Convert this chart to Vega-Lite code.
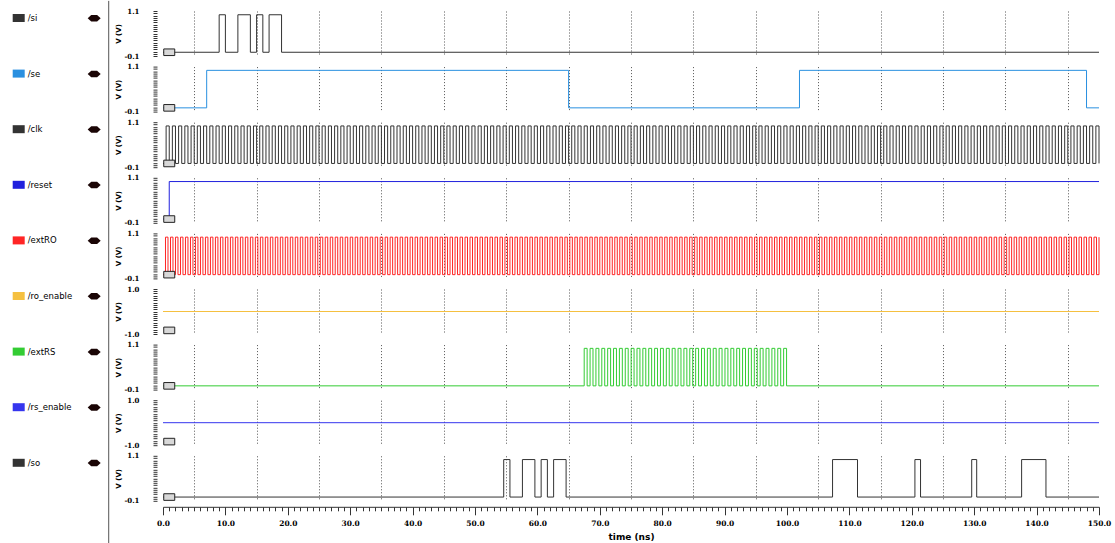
{
"$schema":"https://vega.github.io/schema/vega-lite/v6.json",
"background":"white",
"padding":{"left":8,"top":0,"right":10,"bottom":0},
"spacing":10.6,
"bounds":"flush",
"resolve":{"scale":{"color":"independent"},"legend":{"color":"independent"}},
"config":{
 "view":{"stroke":null},
 "axis":{"labelFont":"DejaVu Serif","labelFontWeight":"bold","labelFontSize":7,"labelColor":"#000","titleFont":"DejaVu Sans","titleFontWeight":"bold","titleFontSize":7,"titleColor":"#000","labelOverlap":false,"labelFlush":false,"labelBound":false,"domain":false,"grid":false,"ticks":true,"tickColor":"#333","tickWidth":1},
 "legend":{"labelFont":"DejaVu Sans","labelFontSize":8.5,"labelColor":"#000","labelOffset":-1,"padding":0}
},
"datasets":{
"si":[{"t":0,"v":0},{"t":9,"v":1},{"t":10,"v":0},{"t":12,"v":1},{"t":14,"v":0},{"t":15,"v":1},{"t":16,"v":0},{"t":17,"v":1},{"t":19,"v":0},{"t":150,"v":0}],
"se":[{"t":0,"v":0},{"t":7,"v":1},{"t":65,"v":0},{"t":102,"v":1},{"t":148,"v":0},{"t":150,"v":0}],
"clk":[{"t":0,"v":0},{"t":0.5,"v":1},{"t":1,"v":0},{"t":1.5,"v":1},{"t":2,"v":0},{"t":2.5,"v":1},{"t":3,"v":0},{"t":3.5,"v":1},{"t":4,"v":0},{"t":4.5,"v":1},{"t":5,"v":0},{"t":5.5,"v":1},{"t":6,"v":0},{"t":6.5,"v":1},{"t":7,"v":0},{"t":7.5,"v":1},{"t":8,"v":0},{"t":8.5,"v":1},{"t":9,"v":0},{"t":9.5,"v":1},
{"t":10,"v":0},{"t":10.5,"v":1},{"t":11,"v":0},{"t":11.5,"v":1},{"t":12,"v":0},{"t":12.5,"v":1},{"t":13,"v":0},{"t":13.5,"v":1},{"t":14,"v":0},{"t":14.5,"v":1},{"t":15,"v":0},{"t":15.5,"v":1},{"t":16,"v":0},{"t":16.5,"v":1},{"t":17,"v":0},{"t":17.5,"v":1},{"t":18,"v":0},{"t":18.5,"v":1},{"t":19,"v":0},{"t":19.5,"v":1},
{"t":20,"v":0},{"t":20.5,"v":1},{"t":21,"v":0},{"t":21.5,"v":1},{"t":22,"v":0},{"t":22.5,"v":1},{"t":23,"v":0},{"t":23.5,"v":1},{"t":24,"v":0},{"t":24.5,"v":1},{"t":25,"v":0},{"t":25.5,"v":1},{"t":26,"v":0},{"t":26.5,"v":1},{"t":27,"v":0},{"t":27.5,"v":1},{"t":28,"v":0},{"t":28.5,"v":1},{"t":29,"v":0},{"t":29.5,"v":1},
{"t":30,"v":0},{"t":30.5,"v":1},{"t":31,"v":0},{"t":31.5,"v":1},{"t":32,"v":0},{"t":32.5,"v":1},{"t":33,"v":0},{"t":33.5,"v":1},{"t":34,"v":0},{"t":34.5,"v":1},{"t":35,"v":0},{"t":35.5,"v":1},{"t":36,"v":0},{"t":36.5,"v":1},{"t":37,"v":0},{"t":37.5,"v":1},{"t":38,"v":0},{"t":38.5,"v":1},{"t":39,"v":0},{"t":39.5,"v":1},
{"t":40,"v":0},{"t":40.5,"v":1},{"t":41,"v":0},{"t":41.5,"v":1},{"t":42,"v":0},{"t":42.5,"v":1},{"t":43,"v":0},{"t":43.5,"v":1},{"t":44,"v":0},{"t":44.5,"v":1},{"t":45,"v":0},{"t":45.5,"v":1},{"t":46,"v":0},{"t":46.5,"v":1},{"t":47,"v":0},{"t":47.5,"v":1},{"t":48,"v":0},{"t":48.5,"v":1},{"t":49,"v":0},{"t":49.5,"v":1},
{"t":50,"v":0},{"t":50.5,"v":1},{"t":51,"v":0},{"t":51.5,"v":1},{"t":52,"v":0},{"t":52.5,"v":1},{"t":53,"v":0},{"t":53.5,"v":1},{"t":54,"v":0},{"t":54.5,"v":1},{"t":55,"v":0},{"t":55.5,"v":1},{"t":56,"v":0},{"t":56.5,"v":1},{"t":57,"v":0},{"t":57.5,"v":1},{"t":58,"v":0},{"t":58.5,"v":1},{"t":59,"v":0},{"t":59.5,"v":1},
{"t":60,"v":0},{"t":60.5,"v":1},{"t":61,"v":0},{"t":61.5,"v":1},{"t":62,"v":0},{"t":62.5,"v":1},{"t":63,"v":0},{"t":63.5,"v":1},{"t":64,"v":0},{"t":64.5,"v":1},{"t":65,"v":0},{"t":65.5,"v":1},{"t":66,"v":0},{"t":66.5,"v":1},{"t":67,"v":0},{"t":67.5,"v":1},{"t":68,"v":0},{"t":68.5,"v":1},{"t":69,"v":0},{"t":69.5,"v":1},
{"t":70,"v":0},{"t":70.5,"v":1},{"t":71,"v":0},{"t":71.5,"v":1},{"t":72,"v":0},{"t":72.5,"v":1},{"t":73,"v":0},{"t":73.5,"v":1},{"t":74,"v":0},{"t":74.5,"v":1},{"t":75,"v":0},{"t":75.5,"v":1},{"t":76,"v":0},{"t":76.5,"v":1},{"t":77,"v":0},{"t":77.5,"v":1},{"t":78,"v":0},{"t":78.5,"v":1},{"t":79,"v":0},{"t":79.5,"v":1},
{"t":80,"v":0},{"t":80.5,"v":1},{"t":81,"v":0},{"t":81.5,"v":1},{"t":82,"v":0},{"t":82.5,"v":1},{"t":83,"v":0},{"t":83.5,"v":1},{"t":84,"v":0},{"t":84.5,"v":1},{"t":85,"v":0},{"t":85.5,"v":1},{"t":86,"v":0},{"t":86.5,"v":1},{"t":87,"v":0},{"t":87.5,"v":1},{"t":88,"v":0},{"t":88.5,"v":1},{"t":89,"v":0},{"t":89.5,"v":1},
{"t":90,"v":0},{"t":90.5,"v":1},{"t":91,"v":0},{"t":91.5,"v":1},{"t":92,"v":0},{"t":92.5,"v":1},{"t":93,"v":0},{"t":93.5,"v":1},{"t":94,"v":0},{"t":94.5,"v":1},{"t":95,"v":0},{"t":95.5,"v":1},{"t":96,"v":0},{"t":96.5,"v":1},{"t":97,"v":0},{"t":97.5,"v":1},{"t":98,"v":0},{"t":98.5,"v":1},{"t":99,"v":0},{"t":99.5,"v":1},
{"t":100,"v":0},{"t":100.5,"v":1},{"t":101,"v":0},{"t":101.5,"v":1},{"t":102,"v":0},{"t":102.5,"v":1},{"t":103,"v":0},{"t":103.5,"v":1},{"t":104,"v":0},{"t":104.5,"v":1},{"t":105,"v":0},{"t":105.5,"v":1},{"t":106,"v":0},{"t":106.5,"v":1},{"t":107,"v":0},{"t":107.5,"v":1},{"t":108,"v":0},{"t":108.5,"v":1},{"t":109,"v":0},{"t":109.5,"v":1},
{"t":110,"v":0},{"t":110.5,"v":1},{"t":111,"v":0},{"t":111.5,"v":1},{"t":112,"v":0},{"t":112.5,"v":1},{"t":113,"v":0},{"t":113.5,"v":1},{"t":114,"v":0},{"t":114.5,"v":1},{"t":115,"v":0},{"t":115.5,"v":1},{"t":116,"v":0},{"t":116.5,"v":1},{"t":117,"v":0},{"t":117.5,"v":1},{"t":118,"v":0},{"t":118.5,"v":1},{"t":119,"v":0},{"t":119.5,"v":1},
{"t":120,"v":0},{"t":120.5,"v":1},{"t":121,"v":0},{"t":121.5,"v":1},{"t":122,"v":0},{"t":122.5,"v":1},{"t":123,"v":0},{"t":123.5,"v":1},{"t":124,"v":0},{"t":124.5,"v":1},{"t":125,"v":0},{"t":125.5,"v":1},{"t":126,"v":0},{"t":126.5,"v":1},{"t":127,"v":0},{"t":127.5,"v":1},{"t":128,"v":0},{"t":128.5,"v":1},{"t":129,"v":0},{"t":129.5,"v":1},
{"t":130,"v":0},{"t":130.5,"v":1},{"t":131,"v":0},{"t":131.5,"v":1},{"t":132,"v":0},{"t":132.5,"v":1},{"t":133,"v":0},{"t":133.5,"v":1},{"t":134,"v":0},{"t":134.5,"v":1},{"t":135,"v":0},{"t":135.5,"v":1},{"t":136,"v":0},{"t":136.5,"v":1},{"t":137,"v":0},{"t":137.5,"v":1},{"t":138,"v":0},{"t":138.5,"v":1},{"t":139,"v":0},{"t":139.5,"v":1},
{"t":140,"v":0},{"t":140.5,"v":1},{"t":141,"v":0},{"t":141.5,"v":1},{"t":142,"v":0},{"t":142.5,"v":1},{"t":143,"v":0},{"t":143.5,"v":1},{"t":144,"v":0},{"t":144.5,"v":1},{"t":145,"v":0},{"t":145.5,"v":1},{"t":146,"v":0},{"t":146.5,"v":1},{"t":147,"v":0},{"t":147.5,"v":1},{"t":148,"v":0},{"t":148.5,"v":1},{"t":149,"v":0},{"t":149.5,"v":1},{"t":150,"v":0}],
"reset":[{"t":0,"v":0},{"t":1,"v":1},{"t":150,"v":1}],
"extRO":[{"t":0,"v":0},{"t":0.4,"v":1},{"t":0.8,"v":0},{"t":1.2,"v":1},{"t":1.6,"v":0},{"t":2,"v":1},{"t":2.4,"v":0},{"t":2.8,"v":1},{"t":3.2,"v":0},{"t":3.6,"v":1},
{"t":4,"v":0},{"t":4.4,"v":1},{"t":4.8,"v":0},{"t":5.2,"v":1},{"t":5.6,"v":0},{"t":6,"v":1},{"t":6.4,"v":0},{"t":6.8,"v":1},{"t":7.2,"v":0},{"t":7.6,"v":1},
{"t":8,"v":0},{"t":8.4,"v":1},{"t":8.8,"v":0},{"t":9.2,"v":1},{"t":9.6,"v":0},{"t":10,"v":1},{"t":10.4,"v":0},{"t":10.8,"v":1},{"t":11.2,"v":0},{"t":11.6,"v":1},
{"t":12,"v":0},{"t":12.4,"v":1},{"t":12.8,"v":0},{"t":13.2,"v":1},{"t":13.6,"v":0},{"t":14,"v":1},{"t":14.4,"v":0},{"t":14.8,"v":1},{"t":15.2,"v":0},{"t":15.6,"v":1},
{"t":16,"v":0},{"t":16.4,"v":1},{"t":16.8,"v":0},{"t":17.2,"v":1},{"t":17.6,"v":0},{"t":18,"v":1},{"t":18.4,"v":0},{"t":18.8,"v":1},{"t":19.2,"v":0},{"t":19.6,"v":1},
{"t":20,"v":0},{"t":20.4,"v":1},{"t":20.8,"v":0},{"t":21.2,"v":1},{"t":21.6,"v":0},{"t":22,"v":1},{"t":22.4,"v":0},{"t":22.8,"v":1},{"t":23.2,"v":0},{"t":23.6,"v":1},
{"t":24,"v":0},{"t":24.4,"v":1},{"t":24.8,"v":0},{"t":25.2,"v":1},{"t":25.6,"v":0},{"t":26,"v":1},{"t":26.4,"v":0},{"t":26.8,"v":1},{"t":27.2,"v":0},{"t":27.6,"v":1},
{"t":28,"v":0},{"t":28.4,"v":1},{"t":28.8,"v":0},{"t":29.2,"v":1},{"t":29.6,"v":0},{"t":30,"v":1},{"t":30.4,"v":0},{"t":30.8,"v":1},{"t":31.2,"v":0},{"t":31.6,"v":1},
{"t":32,"v":0},{"t":32.4,"v":1},{"t":32.8,"v":0},{"t":33.2,"v":1},{"t":33.6,"v":0},{"t":34,"v":1},{"t":34.4,"v":0},{"t":34.8,"v":1},{"t":35.2,"v":0},{"t":35.6,"v":1},
{"t":36,"v":0},{"t":36.4,"v":1},{"t":36.8,"v":0},{"t":37.2,"v":1},{"t":37.6,"v":0},{"t":38,"v":1},{"t":38.4,"v":0},{"t":38.8,"v":1},{"t":39.2,"v":0},{"t":39.6,"v":1},
{"t":40,"v":0},{"t":40.4,"v":1},{"t":40.8,"v":0},{"t":41.2,"v":1},{"t":41.6,"v":0},{"t":42,"v":1},{"t":42.4,"v":0},{"t":42.8,"v":1},{"t":43.2,"v":0},{"t":43.6,"v":1},
{"t":44,"v":0},{"t":44.4,"v":1},{"t":44.8,"v":0},{"t":45.2,"v":1},{"t":45.6,"v":0},{"t":46,"v":1},{"t":46.4,"v":0},{"t":46.8,"v":1},{"t":47.2,"v":0},{"t":47.6,"v":1},
{"t":48,"v":0},{"t":48.4,"v":1},{"t":48.8,"v":0},{"t":49.2,"v":1},{"t":49.6,"v":0},{"t":50,"v":1},{"t":50.4,"v":0},{"t":50.8,"v":1},{"t":51.2,"v":0},{"t":51.6,"v":1},
{"t":52,"v":0},{"t":52.4,"v":1},{"t":52.8,"v":0},{"t":53.2,"v":1},{"t":53.6,"v":0},{"t":54,"v":1},{"t":54.4,"v":0},{"t":54.8,"v":1},{"t":55.2,"v":0},{"t":55.6,"v":1},
{"t":56,"v":0},{"t":56.4,"v":1},{"t":56.8,"v":0},{"t":57.2,"v":1},{"t":57.6,"v":0},{"t":58,"v":1},{"t":58.4,"v":0},{"t":58.8,"v":1},{"t":59.2,"v":0},{"t":59.6,"v":1},
{"t":60,"v":0},{"t":60.4,"v":1},{"t":60.8,"v":0},{"t":61.2,"v":1},{"t":61.6,"v":0},{"t":62,"v":1},{"t":62.4,"v":0},{"t":62.8,"v":1},{"t":63.2,"v":0},{"t":63.6,"v":1},
{"t":64,"v":0},{"t":64.4,"v":1},{"t":64.8,"v":0},{"t":65.2,"v":1},{"t":65.6,"v":0},{"t":66,"v":1},{"t":66.4,"v":0},{"t":66.8,"v":1},{"t":67.2,"v":0},{"t":67.6,"v":1},
{"t":68,"v":0},{"t":68.4,"v":1},{"t":68.8,"v":0},{"t":69.2,"v":1},{"t":69.6,"v":0},{"t":70,"v":1},{"t":70.4,"v":0},{"t":70.8,"v":1},{"t":71.2,"v":0},{"t":71.6,"v":1},
{"t":72,"v":0},{"t":72.4,"v":1},{"t":72.8,"v":0},{"t":73.2,"v":1},{"t":73.6,"v":0},{"t":74,"v":1},{"t":74.4,"v":0},{"t":74.8,"v":1},{"t":75.2,"v":0},{"t":75.6,"v":1},
{"t":76,"v":0},{"t":76.4,"v":1},{"t":76.8,"v":0},{"t":77.2,"v":1},{"t":77.6,"v":0},{"t":78,"v":1},{"t":78.4,"v":0},{"t":78.8,"v":1},{"t":79.2,"v":0},{"t":79.6,"v":1},
{"t":80,"v":0},{"t":80.4,"v":1},{"t":80.8,"v":0},{"t":81.2,"v":1},{"t":81.6,"v":0},{"t":82,"v":1},{"t":82.4,"v":0},{"t":82.8,"v":1},{"t":83.2,"v":0},{"t":83.6,"v":1},
{"t":84,"v":0},{"t":84.4,"v":1},{"t":84.8,"v":0},{"t":85.2,"v":1},{"t":85.6,"v":0},{"t":86,"v":1},{"t":86.4,"v":0},{"t":86.8,"v":1},{"t":87.2,"v":0},{"t":87.6,"v":1},
{"t":88,"v":0},{"t":88.4,"v":1},{"t":88.8,"v":0},{"t":89.2,"v":1},{"t":89.6,"v":0},{"t":90,"v":1},{"t":90.4,"v":0},{"t":90.8,"v":1},{"t":91.2,"v":0},{"t":91.6,"v":1},
{"t":92,"v":0},{"t":92.4,"v":1},{"t":92.8,"v":0},{"t":93.2,"v":1},{"t":93.6,"v":0},{"t":94,"v":1},{"t":94.4,"v":0},{"t":94.8,"v":1},{"t":95.2,"v":0},{"t":95.6,"v":1},
{"t":96,"v":0},{"t":96.4,"v":1},{"t":96.8,"v":0},{"t":97.2,"v":1},{"t":97.6,"v":0},{"t":98,"v":1},{"t":98.4,"v":0},{"t":98.8,"v":1},{"t":99.2,"v":0},{"t":99.6,"v":1},
{"t":100,"v":0},{"t":100.4,"v":1},{"t":100.8,"v":0},{"t":101.2,"v":1},{"t":101.6,"v":0},{"t":102,"v":1},{"t":102.4,"v":0},{"t":102.8,"v":1},{"t":103.2,"v":0},{"t":103.6,"v":1},
{"t":104,"v":0},{"t":104.4,"v":1},{"t":104.8,"v":0},{"t":105.2,"v":1},{"t":105.6,"v":0},{"t":106,"v":1},{"t":106.4,"v":0},{"t":106.8,"v":1},{"t":107.2,"v":0},{"t":107.6,"v":1},
{"t":108,"v":0},{"t":108.4,"v":1},{"t":108.8,"v":0},{"t":109.2,"v":1},{"t":109.6,"v":0},{"t":110,"v":1},{"t":110.4,"v":0},{"t":110.8,"v":1},{"t":111.2,"v":0},{"t":111.6,"v":1},
{"t":112,"v":0},{"t":112.4,"v":1},{"t":112.8,"v":0},{"t":113.2,"v":1},{"t":113.6,"v":0},{"t":114,"v":1},{"t":114.4,"v":0},{"t":114.8,"v":1},{"t":115.2,"v":0},{"t":115.6,"v":1},
{"t":116,"v":0},{"t":116.4,"v":1},{"t":116.8,"v":0},{"t":117.2,"v":1},{"t":117.6,"v":0},{"t":118,"v":1},{"t":118.4,"v":0},{"t":118.8,"v":1},{"t":119.2,"v":0},{"t":119.6,"v":1},
{"t":120,"v":0},{"t":120.4,"v":1},{"t":120.8,"v":0},{"t":121.2,"v":1},{"t":121.6,"v":0},{"t":122,"v":1},{"t":122.4,"v":0},{"t":122.8,"v":1},{"t":123.2,"v":0},{"t":123.6,"v":1},
{"t":124,"v":0},{"t":124.4,"v":1},{"t":124.8,"v":0},{"t":125.2,"v":1},{"t":125.6,"v":0},{"t":126,"v":1},{"t":126.4,"v":0},{"t":126.8,"v":1},{"t":127.2,"v":0},{"t":127.6,"v":1},
{"t":128,"v":0},{"t":128.4,"v":1},{"t":128.8,"v":0},{"t":129.2,"v":1},{"t":129.6,"v":0},{"t":130,"v":1},{"t":130.4,"v":0},{"t":130.8,"v":1},{"t":131.2,"v":0},{"t":131.6,"v":1},
{"t":132,"v":0},{"t":132.4,"v":1},{"t":132.8,"v":0},{"t":133.2,"v":1},{"t":133.6,"v":0},{"t":134,"v":1},{"t":134.4,"v":0},{"t":134.8,"v":1},{"t":135.2,"v":0},{"t":135.6,"v":1},
{"t":136,"v":0},{"t":136.4,"v":1},{"t":136.8,"v":0},{"t":137.2,"v":1},{"t":137.6,"v":0},{"t":138,"v":1},{"t":138.4,"v":0},{"t":138.8,"v":1},{"t":139.2,"v":0},{"t":139.6,"v":1},
{"t":140,"v":0},{"t":140.4,"v":1},{"t":140.8,"v":0},{"t":141.2,"v":1},{"t":141.6,"v":0},{"t":142,"v":1},{"t":142.4,"v":0},{"t":142.8,"v":1},{"t":143.2,"v":0},{"t":143.6,"v":1},
{"t":144,"v":0},{"t":144.4,"v":1},{"t":144.8,"v":0},{"t":145.2,"v":1},{"t":145.6,"v":0},{"t":146,"v":1},{"t":146.4,"v":0},{"t":146.8,"v":1},{"t":147.2,"v":0},{"t":147.6,"v":1},
{"t":148,"v":0},{"t":148.4,"v":1},{"t":148.8,"v":0},{"t":149.2,"v":1},{"t":149.6,"v":0},{"t":150,"v":1}],
"ro_enable":[{"t":0,"v":0},{"t":150,"v":0}],
"extRS":[{"t":0,"v":0},{"t":67.5,"v":1},{"t":67.97,"v":0},{"t":68.44,"v":1},{"t":68.91,"v":0},{"t":69.38,"v":1},{"t":69.85,"v":0},{"t":70.32,"v":1},{"t":70.79,"v":0},{"t":71.26,"v":1},{"t":71.73,"v":0},{"t":72.2,"v":1},{"t":72.67,"v":0},{"t":73.14,"v":1},{"t":73.61,"v":0},{"t":74.08,"v":1},{"t":74.55,"v":0},{"t":75.02,"v":1},{"t":75.49,"v":0},{"t":75.96,"v":1},{"t":76.43,"v":0},{"t":76.9,"v":1},{"t":77.37,"v":0},{"t":77.84,"v":1},{"t":78.31,"v":0},{"t":78.78,"v":1},{"t":79.25,"v":0},{"t":79.72,"v":1},{"t":80.19,"v":0},{"t":80.66,"v":1},{"t":81.13,"v":0},{"t":81.6,"v":1},{"t":82.07,"v":0},{"t":82.54,"v":1},{"t":83.01,"v":0},{"t":83.48,"v":1},{"t":83.95,"v":0},{"t":84.42,"v":1},{"t":84.89,"v":0},{"t":85.36,"v":1},{"t":85.83,"v":0},{"t":86.3,"v":1},{"t":86.77,"v":0},{"t":87.24,"v":1},{"t":87.71,"v":0},{"t":88.18,"v":1},{"t":88.65,"v":0},{"t":89.12,"v":1},{"t":89.59,"v":0},{"t":90.06,"v":1},{"t":90.53,"v":0},{"t":91,"v":1},{"t":91.47,"v":0},{"t":91.94,"v":1},{"t":92.41,"v":0},{"t":92.88,"v":1},{"t":93.35,"v":0},{"t":93.82,"v":1},{"t":94.29,"v":0},{"t":94.76,"v":1},{"t":95.23,"v":0},{"t":95.7,"v":1},{"t":96.17,"v":0},{"t":96.64,"v":1},{"t":97.11,"v":0},{"t":97.58,"v":1},{"t":98.05,"v":0},{"t":98.52,"v":1},{"t":98.99,"v":0},{"t":99.46,"v":1},{"t":99.93,"v":0},{"t":150,"v":0}],
"rs_enable":[{"t":0,"v":0},{"t":150,"v":0}],
"so":[{"t":0,"v":0},{"t":54.6,"v":1},{"t":55.6,"v":0},{"t":57.6,"v":1},{"t":59.6,"v":0},{"t":60.6,"v":1},{"t":61.6,"v":0},{"t":62.6,"v":1},{"t":64.6,"v":0},{"t":107.3,"v":1},{"t":111.3,"v":0},{"t":120.5,"v":1},{"t":121.4,"v":0},{"t":129.6,"v":1},{"t":130.4,"v":0},{"t":137.6,"v":1},{"t":141.5,"v":0},{"t":150,"v":0}]
},
"vconcat":[
{"width":936,"height":45,"data":{"name":"si"},
 "layer":[
  {"mark":{"type":"line","interpolate":"step-after","strokeWidth":1},
   "encoding":{"x":{"field":"t","type":"quantitative","scale":{"domain":[0,150],"nice":false,"zero":false},"axis":{"orient":"bottom","values":[5,15,25,35,45,55,65,75,85,95,105,115,125,135,145],"grid":true,"gridDash":[1,2],"gridColor":"#555","ticks":false,"labels":false,"domain":false,"labelOverlap":false,"title":null}},
    "y":{"field":"v","type":"quantitative","scale":{"domain":[-0.1,1.1],"nice":false,"zero":false},"axis":{"orient":"left","values":[-0.1,-0.04,0.02,0.08,0.14,0.2,0.26,0.32,0.38,0.44,0.5,0.56,0.62,0.68,0.74,0.8,0.86,0.92,0.98,1.04,1.1],"labelExpr":"datum.value == 1.1 ? '1.1' : datum.value == -0.1 ? '-0.1' : ''","title":"V (V)","ticks":true,"domain":false,"grid":false,"labelOverlap":false,"tickSize":4,"offset":6,"labelPadding":14,"titlePadding":2.5}},
    "color":{"datum":"/si","type":"nominal","scale":{"domain":["/si"],"range":["#333333"]},"legend":{"title":null,"orient":"none","legendX":-154.3,"legendY":-3,"symbolType":"stroke","symbolSize":144,"symbolStrokeWidth":8}}}},
  {"data":{"values":[{}]},"mark":{"type":"point","filled":true,"shape":"M-1,0L-0.45,-0.5L0.45,-0.5L1,0L0.45,0.5L-0.45,0.5Z","size":169,"color":"#1a0505","opacity":1},
   "encoding":{"x":{"datum":-11.03,"axis":{"orient":"bottom","values":[5,15,25,35,45,55,65,75,85,95,105,115,125,135,145],"grid":true,"gridDash":[1,2],"gridColor":"#555","ticks":false,"labels":false,"domain":false,"labelOverlap":false,"title":null}},
    "y":{"datum":0.905,"axis":{"orient":"left","values":[-0.1,-0.04,0.02,0.08,0.14,0.2,0.26,0.32,0.38,0.44,0.5,0.56,0.62,0.68,0.74,0.8,0.86,0.92,0.98,1.04,1.1],"labelExpr":"datum.value == 1.1 ? '1.1' : datum.value == -0.1 ? '-0.1' : ''","title":"V (V)","ticks":true,"domain":false,"grid":false,"labelOverlap":false,"tickSize":4,"offset":6,"labelPadding":14,"titlePadding":2.5}}}},
  {"data":{"values":[{}]},"mark":{"type":"point","filled":true,"shape":"M-1,-0.6L1,-0.6L1,0.6L-1,0.6Z","size":121,"fill":"#d8d8d8","stroke":"#222","strokeWidth":1,"opacity":1},
   "encoding":{"x":{"datum":1,"axis":{"orient":"bottom","values":[5,15,25,35,45,55,65,75,85,95,105,115,125,135,145],"grid":true,"gridDash":[1,2],"gridColor":"#555","ticks":false,"labels":false,"domain":false,"labelOverlap":false,"title":null}},
    "y":{"datum":0,"axis":{"orient":"left","values":[-0.1,-0.04,0.02,0.08,0.14,0.2,0.26,0.32,0.38,0.44,0.5,0.56,0.62,0.68,0.74,0.8,0.86,0.92,0.98,1.04,1.1],"labelExpr":"datum.value == 1.1 ? '1.1' : datum.value == -0.1 ? '-0.1' : ''","title":"V (V)","ticks":true,"domain":false,"grid":false,"labelOverlap":false,"tickSize":4,"offset":6,"labelPadding":14,"titlePadding":2.5}}}},
  {"data":{"values":[{}]},"mark":{"type":"rule","color":"#555555","strokeWidth":1},
   "encoding":{"x":{"datum":-8.7,"axis":{"orient":"bottom","values":[5,15,25,35,45,55,65,75,85,95,105,115,125,135,145],"grid":true,"gridDash":[1,2],"gridColor":"#555","ticks":false,"labels":false,"domain":false,"labelOverlap":false,"title":null}},
    "y":{"datum":1.37,"axis":{"orient":"left","values":[-0.1,-0.04,0.02,0.08,0.14,0.2,0.26,0.32,0.38,0.44,0.5,0.56,0.62,0.68,0.74,0.8,0.86,0.92,0.98,1.04,1.1],"labelExpr":"datum.value == 1.1 ? '1.1' : datum.value == -0.1 ? '-0.1' : ''","title":"V (V)","ticks":true,"domain":false,"grid":false,"labelOverlap":false,"tickSize":4,"offset":6,"labelPadding":14,"titlePadding":2.5}},"y2":{"datum":-13.2}}}
 ]},
{"width":936,"height":45,"data":{"name":"se"},
 "layer":[
  {"mark":{"type":"line","interpolate":"step-after","strokeWidth":1},
   "encoding":{"x":{"field":"t","type":"quantitative","scale":{"domain":[0,150],"nice":false,"zero":false},"axis":{"orient":"bottom","values":[5,15,25,35,45,55,65,75,85,95,105,115,125,135,145],"grid":true,"gridDash":[1,2],"gridColor":"#555","ticks":false,"labels":false,"domain":false,"labelOverlap":false,"title":null}},
    "y":{"field":"v","type":"quantitative","scale":{"domain":[-0.1,1.1],"nice":false,"zero":false},"axis":{"orient":"left","values":[-0.1,-0.04,0.02,0.08,0.14,0.2,0.26,0.32,0.38,0.44,0.5,0.56,0.62,0.68,0.74,0.8,0.86,0.92,0.98,1.04,1.1],"labelExpr":"datum.value == 1.1 ? '1.1' : datum.value == -0.1 ? '-0.1' : ''","title":"V (V)","ticks":true,"domain":false,"grid":false,"labelOverlap":false,"tickSize":4,"offset":6,"labelPadding":14,"titlePadding":2.5}},
    "color":{"datum":"/se","type":"nominal","scale":{"domain":["/se"],"range":["#2a90e0"]},"legend":{"title":null,"orient":"none","legendX":-154.3,"legendY":-3,"symbolType":"stroke","symbolSize":144,"symbolStrokeWidth":8}}}},
  {"data":{"values":[{}]},"mark":{"type":"point","filled":true,"shape":"M-1,0L-0.45,-0.5L0.45,-0.5L1,0L0.45,0.5L-0.45,0.5Z","size":169,"color":"#1a0505","opacity":1},
   "encoding":{"x":{"datum":-11.03,"axis":{"orient":"bottom","values":[5,15,25,35,45,55,65,75,85,95,105,115,125,135,145],"grid":true,"gridDash":[1,2],"gridColor":"#555","ticks":false,"labels":false,"domain":false,"labelOverlap":false,"title":null}},
    "y":{"datum":0.905,"axis":{"orient":"left","values":[-0.1,-0.04,0.02,0.08,0.14,0.2,0.26,0.32,0.38,0.44,0.5,0.56,0.62,0.68,0.74,0.8,0.86,0.92,0.98,1.04,1.1],"labelExpr":"datum.value == 1.1 ? '1.1' : datum.value == -0.1 ? '-0.1' : ''","title":"V (V)","ticks":true,"domain":false,"grid":false,"labelOverlap":false,"tickSize":4,"offset":6,"labelPadding":14,"titlePadding":2.5}}}},
  {"data":{"values":[{}]},"mark":{"type":"point","filled":true,"shape":"M-1,-0.6L1,-0.6L1,0.6L-1,0.6Z","size":121,"fill":"#d8d8d8","stroke":"#222","strokeWidth":1,"opacity":1},
   "encoding":{"x":{"datum":1,"axis":{"orient":"bottom","values":[5,15,25,35,45,55,65,75,85,95,105,115,125,135,145],"grid":true,"gridDash":[1,2],"gridColor":"#555","ticks":false,"labels":false,"domain":false,"labelOverlap":false,"title":null}},
    "y":{"datum":0,"axis":{"orient":"left","values":[-0.1,-0.04,0.02,0.08,0.14,0.2,0.26,0.32,0.38,0.44,0.5,0.56,0.62,0.68,0.74,0.8,0.86,0.92,0.98,1.04,1.1],"labelExpr":"datum.value == 1.1 ? '1.1' : datum.value == -0.1 ? '-0.1' : ''","title":"V (V)","ticks":true,"domain":false,"grid":false,"labelOverlap":false,"tickSize":4,"offset":6,"labelPadding":14,"titlePadding":2.5}}}}
 ]},
{"width":936,"height":45,"data":{"name":"clk"},
 "layer":[
  {"mark":{"type":"line","interpolate":"step-after","strokeWidth":1},
   "encoding":{"x":{"field":"t","type":"quantitative","scale":{"domain":[0,150],"nice":false,"zero":false},"axis":{"orient":"bottom","values":[5,15,25,35,45,55,65,75,85,95,105,115,125,135,145],"grid":true,"gridDash":[1,2],"gridColor":"#555","ticks":false,"labels":false,"domain":false,"labelOverlap":false,"title":null}},
    "y":{"field":"v","type":"quantitative","scale":{"domain":[-0.1,1.1],"nice":false,"zero":false},"axis":{"orient":"left","values":[-0.1,-0.04,0.02,0.08,0.14,0.2,0.26,0.32,0.38,0.44,0.5,0.56,0.62,0.68,0.74,0.8,0.86,0.92,0.98,1.04,1.1],"labelExpr":"datum.value == 1.1 ? '1.1' : datum.value == -0.1 ? '-0.1' : ''","title":"V (V)","ticks":true,"domain":false,"grid":false,"labelOverlap":false,"tickSize":4,"offset":6,"labelPadding":14,"titlePadding":2.5}},
    "color":{"datum":"/clk","type":"nominal","scale":{"domain":["/clk"],"range":["#333333"]},"legend":{"title":null,"orient":"none","legendX":-154.3,"legendY":-3,"symbolType":"stroke","symbolSize":144,"symbolStrokeWidth":8}}}},
  {"data":{"values":[{}]},"mark":{"type":"point","filled":true,"shape":"M-1,0L-0.45,-0.5L0.45,-0.5L1,0L0.45,0.5L-0.45,0.5Z","size":169,"color":"#1a0505","opacity":1},
   "encoding":{"x":{"datum":-11.03,"axis":{"orient":"bottom","values":[5,15,25,35,45,55,65,75,85,95,105,115,125,135,145],"grid":true,"gridDash":[1,2],"gridColor":"#555","ticks":false,"labels":false,"domain":false,"labelOverlap":false,"title":null}},
    "y":{"datum":0.905,"axis":{"orient":"left","values":[-0.1,-0.04,0.02,0.08,0.14,0.2,0.26,0.32,0.38,0.44,0.5,0.56,0.62,0.68,0.74,0.8,0.86,0.92,0.98,1.04,1.1],"labelExpr":"datum.value == 1.1 ? '1.1' : datum.value == -0.1 ? '-0.1' : ''","title":"V (V)","ticks":true,"domain":false,"grid":false,"labelOverlap":false,"tickSize":4,"offset":6,"labelPadding":14,"titlePadding":2.5}}}},
  {"data":{"values":[{}]},"mark":{"type":"point","filled":true,"shape":"M-1,-0.6L1,-0.6L1,0.6L-1,0.6Z","size":121,"fill":"#d8d8d8","stroke":"#222","strokeWidth":1,"opacity":1},
   "encoding":{"x":{"datum":1,"axis":{"orient":"bottom","values":[5,15,25,35,45,55,65,75,85,95,105,115,125,135,145],"grid":true,"gridDash":[1,2],"gridColor":"#555","ticks":false,"labels":false,"domain":false,"labelOverlap":false,"title":null}},
    "y":{"datum":0,"axis":{"orient":"left","values":[-0.1,-0.04,0.02,0.08,0.14,0.2,0.26,0.32,0.38,0.44,0.5,0.56,0.62,0.68,0.74,0.8,0.86,0.92,0.98,1.04,1.1],"labelExpr":"datum.value == 1.1 ? '1.1' : datum.value == -0.1 ? '-0.1' : ''","title":"V (V)","ticks":true,"domain":false,"grid":false,"labelOverlap":false,"tickSize":4,"offset":6,"labelPadding":14,"titlePadding":2.5}}}}
 ]},
{"width":936,"height":45,"data":{"name":"reset"},
 "layer":[
  {"mark":{"type":"line","interpolate":"step-after","strokeWidth":1},
   "encoding":{"x":{"field":"t","type":"quantitative","scale":{"domain":[0,150],"nice":false,"zero":false},"axis":{"orient":"bottom","values":[5,15,25,35,45,55,65,75,85,95,105,115,125,135,145],"grid":true,"gridDash":[1,2],"gridColor":"#555","ticks":false,"labels":false,"domain":false,"labelOverlap":false,"title":null}},
    "y":{"field":"v","type":"quantitative","scale":{"domain":[-0.1,1.1],"nice":false,"zero":false},"axis":{"orient":"left","values":[-0.1,-0.04,0.02,0.08,0.14,0.2,0.26,0.32,0.38,0.44,0.5,0.56,0.62,0.68,0.74,0.8,0.86,0.92,0.98,1.04,1.1],"labelExpr":"datum.value == 1.1 ? '1.1' : datum.value == -0.1 ? '-0.1' : ''","title":"V (V)","ticks":true,"domain":false,"grid":false,"labelOverlap":false,"tickSize":4,"offset":6,"labelPadding":14,"titlePadding":2.5}},
    "color":{"datum":"/reset","type":"nominal","scale":{"domain":["/reset"],"range":["#2020dd"]},"legend":{"title":null,"orient":"none","legendX":-154.3,"legendY":-3,"symbolType":"stroke","symbolSize":144,"symbolStrokeWidth":8}}}},
  {"data":{"values":[{}]},"mark":{"type":"point","filled":true,"shape":"M-1,0L-0.45,-0.5L0.45,-0.5L1,0L0.45,0.5L-0.45,0.5Z","size":169,"color":"#1a0505","opacity":1},
   "encoding":{"x":{"datum":-11.03,"axis":{"orient":"bottom","values":[5,15,25,35,45,55,65,75,85,95,105,115,125,135,145],"grid":true,"gridDash":[1,2],"gridColor":"#555","ticks":false,"labels":false,"domain":false,"labelOverlap":false,"title":null}},
    "y":{"datum":0.905,"axis":{"orient":"left","values":[-0.1,-0.04,0.02,0.08,0.14,0.2,0.26,0.32,0.38,0.44,0.5,0.56,0.62,0.68,0.74,0.8,0.86,0.92,0.98,1.04,1.1],"labelExpr":"datum.value == 1.1 ? '1.1' : datum.value == -0.1 ? '-0.1' : ''","title":"V (V)","ticks":true,"domain":false,"grid":false,"labelOverlap":false,"tickSize":4,"offset":6,"labelPadding":14,"titlePadding":2.5}}}},
  {"data":{"values":[{}]},"mark":{"type":"point","filled":true,"shape":"M-1,-0.6L1,-0.6L1,0.6L-1,0.6Z","size":121,"fill":"#d8d8d8","stroke":"#222","strokeWidth":1,"opacity":1},
   "encoding":{"x":{"datum":1,"axis":{"orient":"bottom","values":[5,15,25,35,45,55,65,75,85,95,105,115,125,135,145],"grid":true,"gridDash":[1,2],"gridColor":"#555","ticks":false,"labels":false,"domain":false,"labelOverlap":false,"title":null}},
    "y":{"datum":0,"axis":{"orient":"left","values":[-0.1,-0.04,0.02,0.08,0.14,0.2,0.26,0.32,0.38,0.44,0.5,0.56,0.62,0.68,0.74,0.8,0.86,0.92,0.98,1.04,1.1],"labelExpr":"datum.value == 1.1 ? '1.1' : datum.value == -0.1 ? '-0.1' : ''","title":"V (V)","ticks":true,"domain":false,"grid":false,"labelOverlap":false,"tickSize":4,"offset":6,"labelPadding":14,"titlePadding":2.5}}}}
 ]},
{"width":936,"height":45,"data":{"name":"extRO"},
 "layer":[
  {"mark":{"type":"line","interpolate":"step-after","strokeWidth":1},
   "encoding":{"x":{"field":"t","type":"quantitative","scale":{"domain":[0,150],"nice":false,"zero":false},"axis":{"orient":"bottom","values":[5,15,25,35,45,55,65,75,85,95,105,115,125,135,145],"grid":true,"gridDash":[1,2],"gridColor":"#555","ticks":false,"labels":false,"domain":false,"labelOverlap":false,"title":null}},
    "y":{"field":"v","type":"quantitative","scale":{"domain":[-0.1,1.1],"nice":false,"zero":false},"axis":{"orient":"left","values":[-0.1,-0.04,0.02,0.08,0.14,0.2,0.26,0.32,0.38,0.44,0.5,0.56,0.62,0.68,0.74,0.8,0.86,0.92,0.98,1.04,1.1],"labelExpr":"datum.value == 1.1 ? '1.1' : datum.value == -0.1 ? '-0.1' : ''","title":"V (V)","ticks":true,"domain":false,"grid":false,"labelOverlap":false,"tickSize":4,"offset":6,"labelPadding":14,"titlePadding":2.5}},
    "color":{"datum":"/extRO","type":"nominal","scale":{"domain":["/extRO"],"range":["#ff2525"]},"legend":{"title":null,"orient":"none","legendX":-154.3,"legendY":-3,"symbolType":"stroke","symbolSize":144,"symbolStrokeWidth":8}}}},
  {"data":{"values":[{}]},"mark":{"type":"point","filled":true,"shape":"M-1,0L-0.45,-0.5L0.45,-0.5L1,0L0.45,0.5L-0.45,0.5Z","size":169,"color":"#1a0505","opacity":1},
   "encoding":{"x":{"datum":-11.03,"axis":{"orient":"bottom","values":[5,15,25,35,45,55,65,75,85,95,105,115,125,135,145],"grid":true,"gridDash":[1,2],"gridColor":"#555","ticks":false,"labels":false,"domain":false,"labelOverlap":false,"title":null}},
    "y":{"datum":0.905,"axis":{"orient":"left","values":[-0.1,-0.04,0.02,0.08,0.14,0.2,0.26,0.32,0.38,0.44,0.5,0.56,0.62,0.68,0.74,0.8,0.86,0.92,0.98,1.04,1.1],"labelExpr":"datum.value == 1.1 ? '1.1' : datum.value == -0.1 ? '-0.1' : ''","title":"V (V)","ticks":true,"domain":false,"grid":false,"labelOverlap":false,"tickSize":4,"offset":6,"labelPadding":14,"titlePadding":2.5}}}},
  {"data":{"values":[{}]},"mark":{"type":"point","filled":true,"shape":"M-1,-0.6L1,-0.6L1,0.6L-1,0.6Z","size":121,"fill":"#d8d8d8","stroke":"#222","strokeWidth":1,"opacity":1},
   "encoding":{"x":{"datum":1,"axis":{"orient":"bottom","values":[5,15,25,35,45,55,65,75,85,95,105,115,125,135,145],"grid":true,"gridDash":[1,2],"gridColor":"#555","ticks":false,"labels":false,"domain":false,"labelOverlap":false,"title":null}},
    "y":{"datum":0,"axis":{"orient":"left","values":[-0.1,-0.04,0.02,0.08,0.14,0.2,0.26,0.32,0.38,0.44,0.5,0.56,0.62,0.68,0.74,0.8,0.86,0.92,0.98,1.04,1.1],"labelExpr":"datum.value == 1.1 ? '1.1' : datum.value == -0.1 ? '-0.1' : ''","title":"V (V)","ticks":true,"domain":false,"grid":false,"labelOverlap":false,"tickSize":4,"offset":6,"labelPadding":14,"titlePadding":2.5}}}}
 ]},
{"width":936,"height":45,"data":{"name":"ro_enable"},
 "layer":[
  {"mark":{"type":"line","interpolate":"step-after","strokeWidth":1},
   "encoding":{"x":{"field":"t","type":"quantitative","scale":{"domain":[0,150],"nice":false,"zero":false},"axis":{"orient":"bottom","values":[5,15,25,35,45,55,65,75,85,95,105,115,125,135,145],"grid":true,"gridDash":[1,2],"gridColor":"#555","ticks":false,"labels":false,"domain":false,"labelOverlap":false,"title":null}},
    "y":{"field":"v","type":"quantitative","scale":{"domain":[-1,1],"nice":false,"zero":false},"axis":{"orient":"left","values":[-1,-0.9,-0.8,-0.7,-0.6,-0.5,-0.4,-0.3,-0.2,-0.1,0,0.1,0.2,0.3,0.4,0.5,0.6,0.7,0.8,0.9,1],"labelExpr":"datum.value == 1 ? '1.0' : datum.value == -1 ? '-1.0' : ''","title":"V (V)","ticks":true,"domain":false,"grid":false,"labelOverlap":false,"tickSize":4,"offset":6,"labelPadding":14,"titlePadding":2.5}},
    "color":{"datum":"/ro_enable","type":"nominal","scale":{"domain":["/ro_enable"],"range":["#f5c040"]},"legend":{"title":null,"orient":"none","legendX":-154.3,"legendY":-3,"symbolType":"stroke","symbolSize":144,"symbolStrokeWidth":8}}}},
  {"data":{"values":[{}]},"mark":{"type":"point","filled":true,"shape":"M-1,0L-0.45,-0.5L0.45,-0.5L1,0L0.45,0.5L-0.45,0.5Z","size":169,"color":"#1a0505","opacity":1},
   "encoding":{"x":{"datum":-11.03,"axis":{"orient":"bottom","values":[5,15,25,35,45,55,65,75,85,95,105,115,125,135,145],"grid":true,"gridDash":[1,2],"gridColor":"#555","ticks":false,"labels":false,"domain":false,"labelOverlap":false,"title":null}},
    "y":{"datum":0.676,"axis":{"orient":"left","values":[-1,-0.9,-0.8,-0.7,-0.6,-0.5,-0.4,-0.3,-0.2,-0.1,0,0.1,0.2,0.3,0.4,0.5,0.6,0.7,0.8,0.9,1],"labelExpr":"datum.value == 1 ? '1.0' : datum.value == -1 ? '-1.0' : ''","title":"V (V)","ticks":true,"domain":false,"grid":false,"labelOverlap":false,"tickSize":4,"offset":6,"labelPadding":14,"titlePadding":2.5}}}},
  {"data":{"values":[{}]},"mark":{"type":"point","filled":true,"shape":"M-1,-0.6L1,-0.6L1,0.6L-1,0.6Z","size":121,"fill":"#d8d8d8","stroke":"#222","strokeWidth":1,"opacity":1},
   "encoding":{"x":{"datum":1,"axis":{"orient":"bottom","values":[5,15,25,35,45,55,65,75,85,95,105,115,125,135,145],"grid":true,"gridDash":[1,2],"gridColor":"#555","ticks":false,"labels":false,"domain":false,"labelOverlap":false,"title":null}},
    "y":{"datum":-0.84,"axis":{"orient":"left","values":[-1,-0.9,-0.8,-0.7,-0.6,-0.5,-0.4,-0.3,-0.2,-0.1,0,0.1,0.2,0.3,0.4,0.5,0.6,0.7,0.8,0.9,1],"labelExpr":"datum.value == 1 ? '1.0' : datum.value == -1 ? '-1.0' : ''","title":"V (V)","ticks":true,"domain":false,"grid":false,"labelOverlap":false,"tickSize":4,"offset":6,"labelPadding":14,"titlePadding":2.5}}}}
 ]},
{"width":936,"height":45,"data":{"name":"extRS"},
 "layer":[
  {"mark":{"type":"line","interpolate":"step-after","strokeWidth":1},
   "encoding":{"x":{"field":"t","type":"quantitative","scale":{"domain":[0,150],"nice":false,"zero":false},"axis":{"orient":"bottom","values":[5,15,25,35,45,55,65,75,85,95,105,115,125,135,145],"grid":true,"gridDash":[1,2],"gridColor":"#555","ticks":false,"labels":false,"domain":false,"labelOverlap":false,"title":null}},
    "y":{"field":"v","type":"quantitative","scale":{"domain":[-0.1,1.1],"nice":false,"zero":false},"axis":{"orient":"left","values":[-0.1,-0.04,0.02,0.08,0.14,0.2,0.26,0.32,0.38,0.44,0.5,0.56,0.62,0.68,0.74,0.8,0.86,0.92,0.98,1.04,1.1],"labelExpr":"datum.value == 1.1 ? '1.1' : datum.value == -0.1 ? '-0.1' : ''","title":"V (V)","ticks":true,"domain":false,"grid":false,"labelOverlap":false,"tickSize":4,"offset":6,"labelPadding":14,"titlePadding":2.5}},
    "color":{"datum":"/extRS","type":"nominal","scale":{"domain":["/extRS"],"range":["#33cc33"]},"legend":{"title":null,"orient":"none","legendX":-154.3,"legendY":-3,"symbolType":"stroke","symbolSize":144,"symbolStrokeWidth":8}}}},
  {"data":{"values":[{}]},"mark":{"type":"point","filled":true,"shape":"M-1,0L-0.45,-0.5L0.45,-0.5L1,0L0.45,0.5L-0.45,0.5Z","size":169,"color":"#1a0505","opacity":1},
   "encoding":{"x":{"datum":-11.03,"axis":{"orient":"bottom","values":[5,15,25,35,45,55,65,75,85,95,105,115,125,135,145],"grid":true,"gridDash":[1,2],"gridColor":"#555","ticks":false,"labels":false,"domain":false,"labelOverlap":false,"title":null}},
    "y":{"datum":0.905,"axis":{"orient":"left","values":[-0.1,-0.04,0.02,0.08,0.14,0.2,0.26,0.32,0.38,0.44,0.5,0.56,0.62,0.68,0.74,0.8,0.86,0.92,0.98,1.04,1.1],"labelExpr":"datum.value == 1.1 ? '1.1' : datum.value == -0.1 ? '-0.1' : ''","title":"V (V)","ticks":true,"domain":false,"grid":false,"labelOverlap":false,"tickSize":4,"offset":6,"labelPadding":14,"titlePadding":2.5}}}},
  {"data":{"values":[{}]},"mark":{"type":"point","filled":true,"shape":"M-1,-0.6L1,-0.6L1,0.6L-1,0.6Z","size":121,"fill":"#d8d8d8","stroke":"#222","strokeWidth":1,"opacity":1},
   "encoding":{"x":{"datum":1,"axis":{"orient":"bottom","values":[5,15,25,35,45,55,65,75,85,95,105,115,125,135,145],"grid":true,"gridDash":[1,2],"gridColor":"#555","ticks":false,"labels":false,"domain":false,"labelOverlap":false,"title":null}},
    "y":{"datum":0,"axis":{"orient":"left","values":[-0.1,-0.04,0.02,0.08,0.14,0.2,0.26,0.32,0.38,0.44,0.5,0.56,0.62,0.68,0.74,0.8,0.86,0.92,0.98,1.04,1.1],"labelExpr":"datum.value == 1.1 ? '1.1' : datum.value == -0.1 ? '-0.1' : ''","title":"V (V)","ticks":true,"domain":false,"grid":false,"labelOverlap":false,"tickSize":4,"offset":6,"labelPadding":14,"titlePadding":2.5}}}}
 ]},
{"width":936,"height":45,"data":{"name":"rs_enable"},
 "layer":[
  {"mark":{"type":"line","interpolate":"step-after","strokeWidth":1},
   "encoding":{"x":{"field":"t","type":"quantitative","scale":{"domain":[0,150],"nice":false,"zero":false},"axis":{"orient":"bottom","values":[5,15,25,35,45,55,65,75,85,95,105,115,125,135,145],"grid":true,"gridDash":[1,2],"gridColor":"#555","ticks":false,"labels":false,"domain":false,"labelOverlap":false,"title":null}},
    "y":{"field":"v","type":"quantitative","scale":{"domain":[-1,1],"nice":false,"zero":false},"axis":{"orient":"left","values":[-1,-0.9,-0.8,-0.7,-0.6,-0.5,-0.4,-0.3,-0.2,-0.1,0,0.1,0.2,0.3,0.4,0.5,0.6,0.7,0.8,0.9,1],"labelExpr":"datum.value == 1 ? '1.0' : datum.value == -1 ? '-1.0' : ''","title":"V (V)","ticks":true,"domain":false,"grid":false,"labelOverlap":false,"tickSize":4,"offset":6,"labelPadding":14,"titlePadding":2.5}},
    "color":{"datum":"/rs_enable","type":"nominal","scale":{"domain":["/rs_enable"],"range":["#3535ee"]},"legend":{"title":null,"orient":"none","legendX":-154.3,"legendY":-3,"symbolType":"stroke","symbolSize":144,"symbolStrokeWidth":8}}}},
  {"data":{"values":[{}]},"mark":{"type":"point","filled":true,"shape":"M-1,0L-0.45,-0.5L0.45,-0.5L1,0L0.45,0.5L-0.45,0.5Z","size":169,"color":"#1a0505","opacity":1},
   "encoding":{"x":{"datum":-11.03,"axis":{"orient":"bottom","values":[5,15,25,35,45,55,65,75,85,95,105,115,125,135,145],"grid":true,"gridDash":[1,2],"gridColor":"#555","ticks":false,"labels":false,"domain":false,"labelOverlap":false,"title":null}},
    "y":{"datum":0.676,"axis":{"orient":"left","values":[-1,-0.9,-0.8,-0.7,-0.6,-0.5,-0.4,-0.3,-0.2,-0.1,0,0.1,0.2,0.3,0.4,0.5,0.6,0.7,0.8,0.9,1],"labelExpr":"datum.value == 1 ? '1.0' : datum.value == -1 ? '-1.0' : ''","title":"V (V)","ticks":true,"domain":false,"grid":false,"labelOverlap":false,"tickSize":4,"offset":6,"labelPadding":14,"titlePadding":2.5}}}},
  {"data":{"values":[{}]},"mark":{"type":"point","filled":true,"shape":"M-1,-0.6L1,-0.6L1,0.6L-1,0.6Z","size":121,"fill":"#d8d8d8","stroke":"#222","strokeWidth":1,"opacity":1},
   "encoding":{"x":{"datum":1,"axis":{"orient":"bottom","values":[5,15,25,35,45,55,65,75,85,95,105,115,125,135,145],"grid":true,"gridDash":[1,2],"gridColor":"#555","ticks":false,"labels":false,"domain":false,"labelOverlap":false,"title":null}},
    "y":{"datum":-0.84,"axis":{"orient":"left","values":[-1,-0.9,-0.8,-0.7,-0.6,-0.5,-0.4,-0.3,-0.2,-0.1,0,0.1,0.2,0.3,0.4,0.5,0.6,0.7,0.8,0.9,1],"labelExpr":"datum.value == 1 ? '1.0' : datum.value == -1 ? '-1.0' : ''","title":"V (V)","ticks":true,"domain":false,"grid":false,"labelOverlap":false,"tickSize":4,"offset":6,"labelPadding":14,"titlePadding":2.5}}}}
 ]},
{"width":936,"height":45,"data":{"name":"so"},
 "layer":[
  {"mark":{"type":"line","interpolate":"step-after","strokeWidth":1},
   "encoding":{"x":{"field":"t","type":"quantitative","scale":{"domain":[0,150],"nice":false,"zero":false},"axis":{"orient":"bottom","values":[0,1,2,3,4,5,6,7,8,9,10,11,12,13,14,15,16,17,18,19,20,21,22,23,24,25,26,27,28,29,30,31,32,33,34,35,36,37,38,39,40,41,42,43,44,45,46,47,48,49,50,51,52,53,54,55,56,57,58,59,60,61,62,63,64,65,66,67,68,69,70,71,72,73,74,75,76,77,78,79,80,81,82,83,84,85,86,87,88,89,90,91,92,93,94,95,96,97,98,99,100,101,102,103,104,105,106,107,108,109,110,111,112,113,114,115,116,117,118,119,120,121,122,123,124,125,126,127,128,129,130,131,132,133,134,135,136,137,138,139,140,141,142,143,144,145,146,147,148,149,150],"grid":true,"gridDash":[1,2],"gridColor":"#555","gridOpacity":{"condition":{"test":"datum.value % 10 === 5","value":1},"value":0},"ticks":true,"tickSize":8,"tickDash":{"condition":{"test":"datum.value % 10 === 0","value":[100,1]},"value":[4,20]},"tickColor":"#333","domain":true,"domainColor":"#333","offset":6,"labelOverlap":false,"labelExpr":"datum.value % 10 === 0 ? format(datum.value, '.1f') : ''","labelPadding":5,"labelFontSize":7.5,"title":"time (ns)","titleFontSize":9,"titlePadding":5}},
    "y":{"field":"v","type":"quantitative","scale":{"domain":[-0.1,1.1],"nice":false,"zero":false},"axis":{"orient":"left","values":[-0.1,-0.04,0.02,0.08,0.14,0.2,0.26,0.32,0.38,0.44,0.5,0.56,0.62,0.68,0.74,0.8,0.86,0.92,0.98,1.04,1.1],"labelExpr":"datum.value == 1.1 ? '1.1' : datum.value == -0.1 ? '-0.1' : ''","title":"V (V)","ticks":true,"domain":false,"grid":false,"labelOverlap":false,"tickSize":4,"offset":6,"labelPadding":14,"titlePadding":2.5}},
    "color":{"datum":"/so","type":"nominal","scale":{"domain":["/so"],"range":["#333333"]},"legend":{"title":null,"orient":"none","legendX":-154.3,"legendY":-3,"symbolType":"stroke","symbolSize":144,"symbolStrokeWidth":8}}}},
  {"data":{"values":[{}]},"mark":{"type":"point","filled":true,"shape":"M-1,0L-0.45,-0.5L0.45,-0.5L1,0L0.45,0.5L-0.45,0.5Z","size":169,"color":"#1a0505","opacity":1},
   "encoding":{"x":{"datum":-11.03,"axis":{"orient":"bottom","values":[0,1,2,3,4,5,6,7,8,9,10,11,12,13,14,15,16,17,18,19,20,21,22,23,24,25,26,27,28,29,30,31,32,33,34,35,36,37,38,39,40,41,42,43,44,45,46,47,48,49,50,51,52,53,54,55,56,57,58,59,60,61,62,63,64,65,66,67,68,69,70,71,72,73,74,75,76,77,78,79,80,81,82,83,84,85,86,87,88,89,90,91,92,93,94,95,96,97,98,99,100,101,102,103,104,105,106,107,108,109,110,111,112,113,114,115,116,117,118,119,120,121,122,123,124,125,126,127,128,129,130,131,132,133,134,135,136,137,138,139,140,141,142,143,144,145,146,147,148,149,150],"grid":true,"gridDash":[1,2],"gridColor":"#555","gridOpacity":{"condition":{"test":"datum.value % 10 === 5","value":1},"value":0},"ticks":true,"tickSize":8,"tickDash":{"condition":{"test":"datum.value % 10 === 0","value":[100,1]},"value":[4,20]},"tickColor":"#333","domain":true,"domainColor":"#333","offset":6,"labelOverlap":false,"labelExpr":"datum.value % 10 === 0 ? format(datum.value, '.1f') : ''","labelPadding":5,"labelFontSize":7.5,"title":"time (ns)","titleFontSize":9,"titlePadding":5}},
    "y":{"datum":0.905,"axis":{"orient":"left","values":[-0.1,-0.04,0.02,0.08,0.14,0.2,0.26,0.32,0.38,0.44,0.5,0.56,0.62,0.68,0.74,0.8,0.86,0.92,0.98,1.04,1.1],"labelExpr":"datum.value == 1.1 ? '1.1' : datum.value == -0.1 ? '-0.1' : ''","title":"V (V)","ticks":true,"domain":false,"grid":false,"labelOverlap":false,"tickSize":4,"offset":6,"labelPadding":14,"titlePadding":2.5}}}},
  {"data":{"values":[{}]},"mark":{"type":"point","filled":true,"shape":"M-1,-0.6L1,-0.6L1,0.6L-1,0.6Z","size":121,"fill":"#d8d8d8","stroke":"#222","strokeWidth":1,"opacity":1},
   "encoding":{"x":{"datum":1,"axis":{"orient":"bottom","values":[0,1,2,3,4,5,6,7,8,9,10,11,12,13,14,15,16,17,18,19,20,21,22,23,24,25,26,27,28,29,30,31,32,33,34,35,36,37,38,39,40,41,42,43,44,45,46,47,48,49,50,51,52,53,54,55,56,57,58,59,60,61,62,63,64,65,66,67,68,69,70,71,72,73,74,75,76,77,78,79,80,81,82,83,84,85,86,87,88,89,90,91,92,93,94,95,96,97,98,99,100,101,102,103,104,105,106,107,108,109,110,111,112,113,114,115,116,117,118,119,120,121,122,123,124,125,126,127,128,129,130,131,132,133,134,135,136,137,138,139,140,141,142,143,144,145,146,147,148,149,150],"grid":true,"gridDash":[1,2],"gridColor":"#555","gridOpacity":{"condition":{"test":"datum.value % 10 === 5","value":1},"value":0},"ticks":true,"tickSize":8,"tickDash":{"condition":{"test":"datum.value % 10 === 0","value":[100,1]},"value":[4,20]},"tickColor":"#333","domain":true,"domainColor":"#333","offset":6,"labelOverlap":false,"labelExpr":"datum.value % 10 === 0 ? format(datum.value, '.1f') : ''","labelPadding":5,"labelFontSize":7.5,"title":"time (ns)","titleFontSize":9,"titlePadding":5}},
    "y":{"datum":0,"axis":{"orient":"left","values":[-0.1,-0.04,0.02,0.08,0.14,0.2,0.26,0.32,0.38,0.44,0.5,0.56,0.62,0.68,0.74,0.8,0.86,0.92,0.98,1.04,1.1],"labelExpr":"datum.value == 1.1 ? '1.1' : datum.value == -0.1 ? '-0.1' : ''","title":"V (V)","ticks":true,"domain":false,"grid":false,"labelOverlap":false,"tickSize":4,"offset":6,"labelPadding":14,"titlePadding":2.5}}}}
 ]}
]
}
